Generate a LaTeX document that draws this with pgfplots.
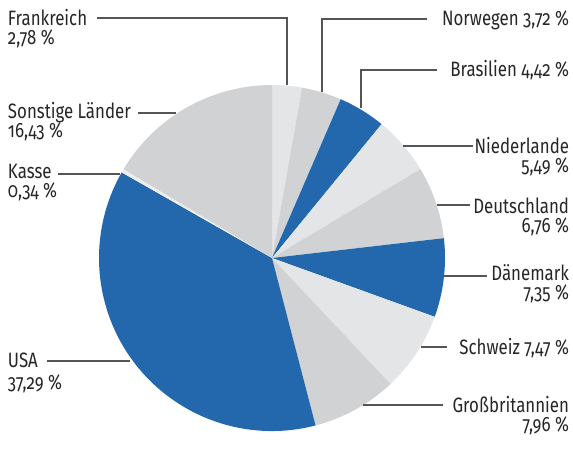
\documentclass[border=0pt]{standalone}
\usepackage{graphicx}
\usepackage{pgfplots}
\pgfplotsset{compat=1.18}
\usepackage{pgfplotstable}
\usepackage{fontspec}
\setmainfont{Fira Sans}[Numbers=OldStyle]

\definecolor{cBlue}{HTML}{2367AD}
\definecolor{cLight}{HTML}{E4E5E7}
\definecolor{cMid}{HTML}{D1D2D4}
\definecolor{cKasse}{HTML}{EEEEEF}
\definecolor{txt}{HTML}{262626}
\definecolor{lead}{HTML}{555555}

% share in percent, clockwise from 12 o'clock
\pgfplotstableread{
pct   col
2.78  cLight
3.72  cMid
4.42  cBlue
5.49  cLight
6.76  cMid
7.35  cBlue
7.47  cLight
7.96  cMid
37.29 cBlue
0.34  cKasse
16.43 cMid
}\piedata

\newcommand\nar[1]{\scalebox{0.81}[1]{#1}}
\tikzset{
  lab/.style={font=\fontsize{10.4}{12}\selectfont, text=txt, inner sep=0pt, outer sep=0pt},
  labL/.style={lab, anchor=base west},
  labR/.style={lab, anchor=base east},
}

\begin{document}
\begin{tikzpicture}
\begin{axis}[
    width=286.5pt, height=217pt, scale only axis,
    xmin=0, xmax=573, ymin=0, ymax=434, y dir=reverse,
    hide axis, clip=false,
]
% keep the whole frame as the page
\path (axis cs:0,0) rectangle (axis cs:573,434);

\def\cum{0}
\pgfplotsforeachungrouped \i in {0,...,10}{%
  \pgfplotstablegetelem{\i}{pct}\of\piedata \let\pp\pgfplotsretval
  \pgfplotstablegetelem{\i}{col}\of\piedata \let\sc\pgfplotsretval
  \pgfmathsetmacro\sa{90-3.6*\cum}
  \pgfmathsetmacro\sb{90-3.6*(\cum+\pp)}
  \edef\temp{\noexpand\fill[\sc] (axis cs:272,258) -- ++(\sa:86.5pt)
     arc[start angle=\sa, end angle=\sb, radius=86.5pt] -- cycle;}
  \temp
  \pgfmathsetmacro\cum{\cum+\pp}
}

% leaders
\begin{scope}[draw=lead, line width=0.7pt]
\draw (axis cs:97,18) -- (axis cs:287,18) -- (axis cs:287,85);
\draw (axis cs:427,19) -- (axis cs:322,19) -- (axis cs:322,92);
\draw (axis cs:437,70) -- (axis cs:361,70) -- (axis cs:361,108);
\draw (axis cs:403,146) -- (axis cs:473,146);
\draw (axis cs:437,205) -- (axis cs:470,205);
\draw (axis cs:444,276) -- (axis cs:487,276);
\draw (axis cs:421,347) -- (axis cs:447,347);
\draw (axis cs:363,405) -- (axis cs:443,405);
\draw (axis cs:47,361) -- (axis cs:130,361);
\draw (axis cs:58,174) -- (axis cs:120,174);
\draw (axis cs:138,113) -- (axis cs:176,113);
\end{scope}

% labels left
\node[labL] at (axis cs:8,25) {\nar{Frankreich}};
\node[labL] at (axis cs:8,44) {\nar{2,78 \%}};
\node[labL] at (axis cs:8,118) {\nar{Sonstige Länder}};
\node[labL] at (axis cs:8,137) {\nar{16,43 \%}};
\node[labL] at (axis cs:8,178) {\nar{Kasse}};
\node[labL] at (axis cs:8,197) {\nar{0,34 \%}};
\node[labL] at (axis cs:8,367) {\nar{USA}};
\node[labL] at (axis cs:8,389) {\nar{37,29 \%}};
% labels right
\node[labR] at (axis cs:569,25) {\nar{Norwegen 3,72 \%}};
\node[labR] at (axis cs:569,76) {\nar{Brasilien 4,42 \%}};
\node[labR] at (axis cs:569,153) {\nar{Niederlande}};
\node[labR] at (axis cs:569,172) {\nar{5,49 \%}};
\node[labR] at (axis cs:569,213) {\nar{Deutschland}};
\node[labR] at (axis cs:569,232) {\nar{6,76 \%}};
\node[labR] at (axis cs:569,280) {\nar{Dänemark}};
\node[labR] at (axis cs:569,299) {\nar{7,35 \%}};
\node[labR] at (axis cs:569,354) {\nar{Schweiz 7,47 \%}};
\node[labR] at (axis cs:569,412) {\nar{Großbritannien}};
\node[labR] at (axis cs:569,431) {\nar{7,96 \%}};
\end{axis}
\end{tikzpicture}
\end{document}
